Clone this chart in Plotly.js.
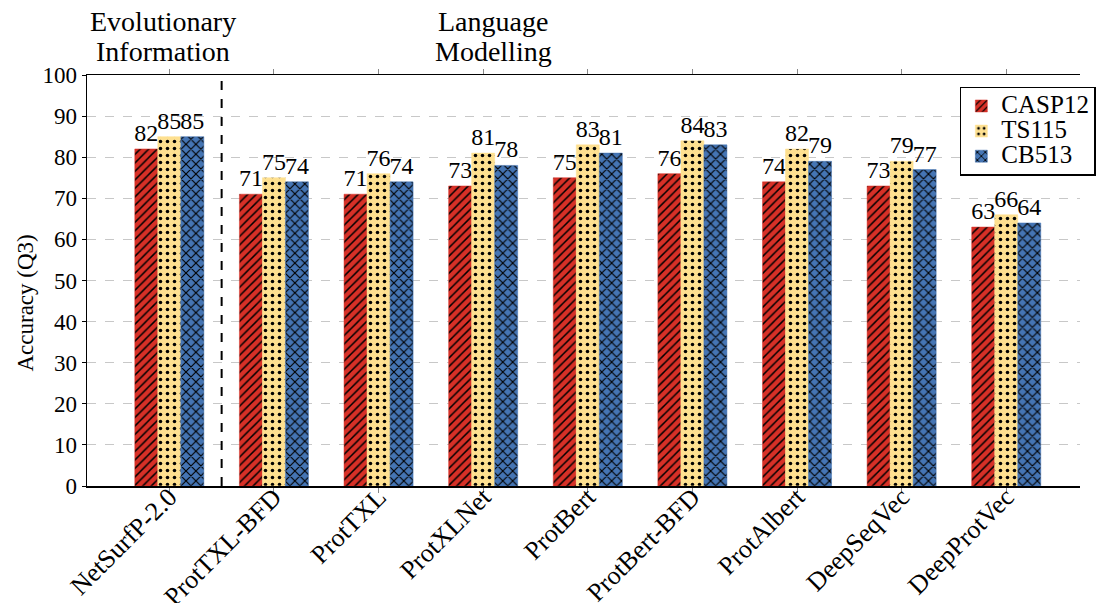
<!DOCTYPE html>
<html>
<head>
<meta charset="utf-8">
<script src="https://cdn.plot.ly/plotly-3.0.1.min.js"></script>
<style>html,body{margin:0;padding:0;background:#fff}#chart{width:1096px;height:603px}</style>
</head>
<body>
<div id="chart"></div>
<script>
var categories = ["NetSurfP-2.0","ProtTXL-BFD","ProtTXL","ProtXLNet","ProtBert","ProtBert-BFD","ProtAlbert","DeepSeqVec","DeepProtVec"];
var casp12 = [82,71,71,73,75,76,74,73,63];
var ts115  = [85,75,76,81,83,84,82,79,66];
var cb513  = [85,74,74,78,81,83,79,77,64];
var seriesNames = ["CASP12","TS115","CB513"];
var yTicks = [0,10,20,30,40,50,60,70,80,90,100];

var serif = "Liberation Serif";
var colors = ["#d73027","#fee090","#4575b4"];
var shapes = ["/",".","x"];
var patSize = [6,7,7];
var patSolid = [0.25,0.2,0.3];
var data = [casp12, ts115, cb513];

var traces = data.map(function(vals, i){
  return {
    type: "bar",
    name: "<span style='font-size:25px'>" + seriesNames[i] + "</span>",
    x: categories,
    y: vals,
    text: vals.map(String),
    textposition: "outside",
    cliponaxis: false,
    constraintext: "none",
    textfont: {family: serif, size: 24, color: "#000"},
    marker: {
      color: colors[i],
      line: {color: colors[i], width: 0.5},
      pattern: {shape: shapes[i], fgcolor: "#000", bgcolor: colors[i], size: patSize[i], solidity: patSolid[i]}
    },
    hoverinfo: "x+y"
  };
});

var layout = {
  width: 1096, height: 603,
  margin: {l: 87, r: 0, t: 75, b: 117},
  paper_bgcolor: "#fff", plot_bgcolor: "#fff",
  font: {family: serif, color: "#000"},
  barmode: "group",
  bargap: 0.34,
  bargroupgap: 0,
  showlegend: true,
  legend: {
    x: 0.879, y: 0.971, xanchor: "left", yanchor: "top",
    bordercolor: "#000", borderwidth: 1.5, bgcolor: "#fff",
    font: {family: serif, size: 17, color: "#000"},
    itemwidth: 30
  },
  xaxis: {
    type: "category",
    range: [-0.787, 8.705],
    tickangle: -45,
    tickfont: {family: serif, size: 26, color: "#000"},
    ticklabelstandoff: -21,
    showline: true, linecolor: "#000", linewidth: 1.5,
    mirror: "allticks",
    ticks: "outside", ticklen: 5, tickcolor: "#888", tickwidth: 1,
    showgrid: false, zeroline: false
  },
  yaxis: {
    range: [0, 100],
    tickvals: yTicks,
    ticktext: yTicks.map(String),
    tickfont: {family: serif, size: 23, color: "#000"},
    showline: true, linecolor: "#000", linewidth: 1.5,
    mirror: false,
    ticks: "outside", ticklen: 4, tickcolor: "#000",
    showgrid: true, gridcolor: "#c8c8c8", griddash: "dash", gridwidth: 1,
    zeroline: false
  },
  shapes: [{
    type: "line", xref: "x", yref: "y",
    x0: 0.5, x1: 0.5, y0: 0, y1: 100,
    line: {color: "#000", width: 2, dash: "dash"}
  }],
  annotations: [
    {text: "Accuracy (Q3)", xref: "paper", yref: "paper", x: -0.062, y: 0.445, textangle: -90,
     showarrow: false, font: {family: serif, size: 23, color: "#000"}, xanchor: "center", yanchor: "middle"},
    {text: "Evolutionary", xref: "paper", yref: "paper", x: 0.0763, y: 1.129, showarrow: false,
     font: {family: serif, size: 28, color: "#000"}, xanchor: "center", yanchor: "middle"},
    {text: "Information", xref: "paper", yref: "paper", x: 0.0763, y: 1.056, showarrow: false,
     font: {family: serif, size: 28, color: "#000"}, xanchor: "center", yanchor: "middle"},
    {text: "Language", xref: "paper", yref: "paper", x: 0.409, y: 1.129, showarrow: false,
     font: {family: serif, size: 28, color: "#000"}, xanchor: "center", yanchor: "middle"},
    {text: "Modelling", xref: "paper", yref: "paper", x: 0.409, y: 1.056, showarrow: false,
     font: {family: serif, size: 28, color: "#000"}, xanchor: "center", yanchor: "middle"}
  ]
};

Plotly.newPlot("chart", traces, layout, {displayModeBar: false, staticPlot: true});
</script>
</body>
</html>
